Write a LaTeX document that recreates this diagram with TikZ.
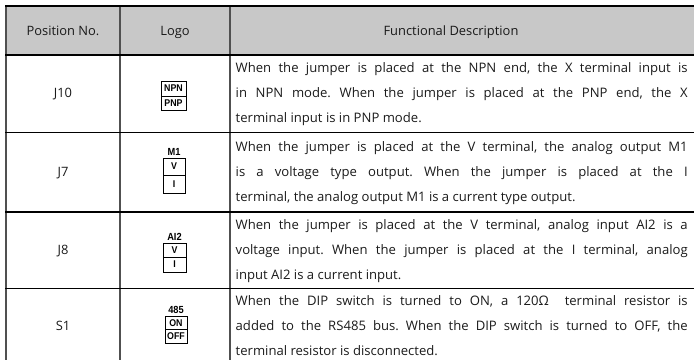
\documentclass[tikz,border=0pt]{standalone}
\usepackage{fontspec}
\setmainfont{Open Sans}
\newfontfamily\logofont{Liberation Sans}[FakeStretch=0.9]
\definecolor{hdrgray}{HTML}{C8C8C8}
\definecolor{vgray}{HTML}{505050}
\definecolor{txt}{HTML}{1A1A1A}
\frenchspacing
\begin{document}
\begin{tikzpicture}[x=1pt,y=-1pt,
  hline/.style={draw=black,line width=1.2pt},
  vline/.style={draw=vgray,line width=1.3pt},
  hdrtext/.style={font=\fontsize{12.9}{15}\selectfont,text=txt,inner sep=0pt,anchor=base},
  cellt/.style={font=\fontsize{12.9}{15}\selectfont,text=txt,inner sep=0pt,anchor=base},
  desc/.style={font=\fontsize{13.1}{25}\selectfont,text=txt,inner sep=0pt,anchor=base west,text width=452pt,align=justify},
  lbox/.style={draw=black,line width=0.7pt,inner sep=0pt,font=\logofont\bfseries\fontsize{9.8}{10}\selectfont},
  llab/.style={inner sep=0pt,font=\logofont\bfseries\fontsize{10.3}{11}\selectfont}]
\useasboundingbox (0,0) rectangle (694,360);
\fill[hdrgray] (6,6) rectangle (694,55);
% grid
\draw[vline] (6,6) -- (6,360);
\draw[vline] (120,6) -- (120,360);
\draw[vline] (230,6) -- (230,360);
\draw[hline] (5.4,6) -- (694,6);
\draw[hline] (5.4,55) -- (694,55);
\draw[hline] (5.4,132.5) -- (694,132.5);
\draw[hline] (5.4,212) -- (694,212);
\draw[hline] (5.4,288.5) -- (694,288.5);
% header
\node[hdrtext] (h1) at (63,35.5) {Position No.};
\node[hdrtext] (h2) at (175,35.5) {Logo};
\node[hdrtext] (h3) at (451,35.5) {Functional Description};
% position numbers
\node[cellt] (p1) at (63,97.5) {J10};
\node[cellt] (p2) at (63,176.5) {J7};
\node[cellt] (p3) at (63,254.5) {J8};
\node[cellt] (p4) at (63,330.5) {S1};
% logos
\node[lbox,minimum width=25pt,minimum height=15pt] (npn) at (173.5,88.5) {NPN};
\node[lbox,minimum width=25pt,minimum height=14pt] (pnp) at (173.5,103) {PNP};
\node[llab] (m1) at (174,152) {M1};
\node[lbox,minimum width=22pt,minimum height=17pt] (m1v) at (174,166.5) {V};
\node[lbox,minimum width=22pt,minimum height=18pt] (m1i) at (174,184) {I};
\node[llab] (ai2) at (174.5,237) {AI2};
\node[lbox,minimum width=23pt,minimum height=14pt] (aiv) at (174.5,250) {V};
\node[lbox,minimum width=23pt,minimum height=15pt] (aii) at (174.5,264.5) {I};
\node[llab] (r485) at (176,310) {485};
\node[lbox,minimum width=22pt,minimum height=12.5pt] (on) at (176,323) {ON};
\node[lbox,minimum width=22pt,minimum height=14pt] (off) at (176,336.2) {OFF};
% descriptions
\node[desc] (d1) at (235.5,72.5) {When the jumper is placed at the NPN end, the X terminal input is\linebreak in NPN mode. When the jumper is placed at the PNP end, the X\linebreak terminal input is in PNP mode.};
\node[desc] (d2) at (235.5,151.5) {When the jumper is placed at the V terminal, the analog output M1\linebreak is a voltage type output. When the jumper is placed at the I\linebreak terminal, the analog output M1 is a current type output.};
\node[desc] (d3) at (235.5,229.5) {When the jumper is placed at the V terminal, analog input AI2 is a\linebreak voltage input. When the jumper is placed at the I terminal, analog\linebreak input AI2 is a current input.};
\node[desc] (d4) at (235.5,305.5) {When the DIP switch is turned to ON, a 120Ω~ terminal resistor is\linebreak added to the RS485 bus. When the DIP switch is turned to OFF, the\linebreak terminal resistor is disconnected.};
\end{tikzpicture}
\end{document}
